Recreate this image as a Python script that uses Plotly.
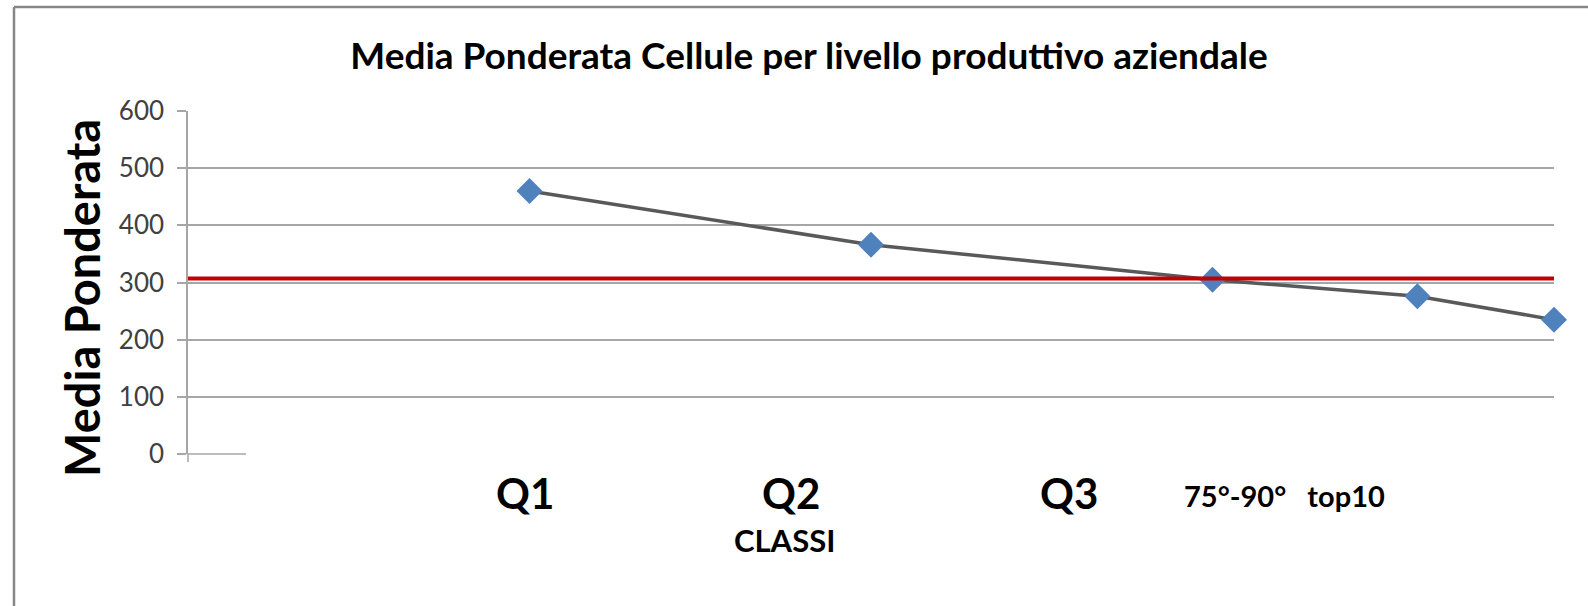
import plotly.graph_objects as go

# data
percentili = [25, 50, 75, 90, 100]
media_ponderata = [460, 366, 305, 276, 235]
media_generale = 307

etichette_classi = ["Q1", "Q2", "Q3", "75°-90°   top10"]
y_ticks = [0, 100, 200, 300, 400, 500, 600]

W, H = 1588, 606
L, R, T, B = 188, 34, 111, 152
pw, ph = W - L - R, H - T - B


def px_x(x):
    return (x - L) / pw


def px_y(y):
    return (H - B - y) / ph


fig = go.Figure()

fig.add_trace(go.Scatter(
    x=percentili, y=media_ponderata,
    mode="lines+markers",
    line=dict(color="#595959", width=3.5),
    marker=dict(symbol="diamond", size=20, color="#4F81BD"),
    cliponaxis=False,
))
fig.add_trace(go.Scatter(
    x=[0, 100], y=[media_generale, media_generale],
    mode="lines",
    line=dict(color="#C00000", width=4),
    cliponaxis=False,
))

# text boxes under the plot (hand-placed in the original)
label_pos = [(525, 493, 42), (791, 493, 42), (1069, 493, 42), (1284, 495, 29)]
ann = []
for txt, (x, y, s) in zip(etichette_classi, label_pos):
    ann.append(dict(text=txt, x=px_x(x), y=px_y(y), xref="paper", yref="paper",
                    xanchor="center", yanchor="middle", showarrow=False,
                    font=dict(family="Lato", size=s, color="black", weight="bold")))
ann.append(dict(text="CLASSI", x=px_x(784), y=px_y(540), xref="paper", yref="paper",
                xanchor="center", yanchor="middle", showarrow=False,
                font=dict(family="Lato", size=31, color="black", weight="bold")))
ann.append(dict(text="Media Ponderata", x=px_x(82), y=px_y(298), xref="paper", yref="paper",
                xanchor="center", yanchor="middle", showarrow=False, textangle=-90,
                font=dict(family="Lato", size=47, color="black", weight="bold")))

grid = "#A6A6A6"
shapes = [
    # chart frame (cut off on right and bottom)
    dict(type="line", xref="paper", yref="paper", x0=px_x(14), x1=px_x(14), y0=px_y(7), y1=px_y(H),
         line=dict(color="#868686", width=2.5)),
    dict(type="line", xref="paper", yref="paper", x0=px_x(14), x1=px_x(W), y0=px_y(7), y1=px_y(7),
         line=dict(color="#868686", width=2.5)),
    # y axis runs a bit below 0
    dict(type="line", xref="paper", yref="paper", x0=0, x1=0, y0=0, y1=px_y(462),
         line=dict(color=grid, width=1.5)),
    # short x axis stub
    dict(type="line", xref="paper", yref="paper", x0=0, x1=px_x(246), y0=0, y1=0,
         line=dict(color=grid, width=1.5)),
]

fig.update_layout(
    width=W, height=H,
    margin=dict(l=L, r=R, t=T, b=B),
    paper_bgcolor="white", plot_bgcolor="white",
    showlegend=False,
    title=dict(text="Media Ponderata Cellule per livello produttivo aziendale",
               x=809 / W, y=1 - 56 / H, xanchor="center", yanchor="middle",
               font=dict(family="Lato", size=37, color="black", weight="bold")),
    xaxis=dict(range=[0, 100], showgrid=False, zeroline=False, showline=False,
               showticklabels=False, ticks=""),
    yaxis=dict(range=[0, 600], tickvals=y_ticks, showgrid=True, gridcolor=grid, gridwidth=1.5,
               zeroline=False, showline=True, linecolor=grid, linewidth=1.5,
               ticks="outside", ticklen=9, tickcolor=grid, tickwidth=1.5,
               ticklabelstandoff=8,
               tickfont=dict(family="Lato", size=26, color="#404040")),
    annotations=ann,
    shapes=shapes,
)

fig.write_html("out.html", config={"displayModeBar": False},
               post_script="document.body.style.margin='0';")
